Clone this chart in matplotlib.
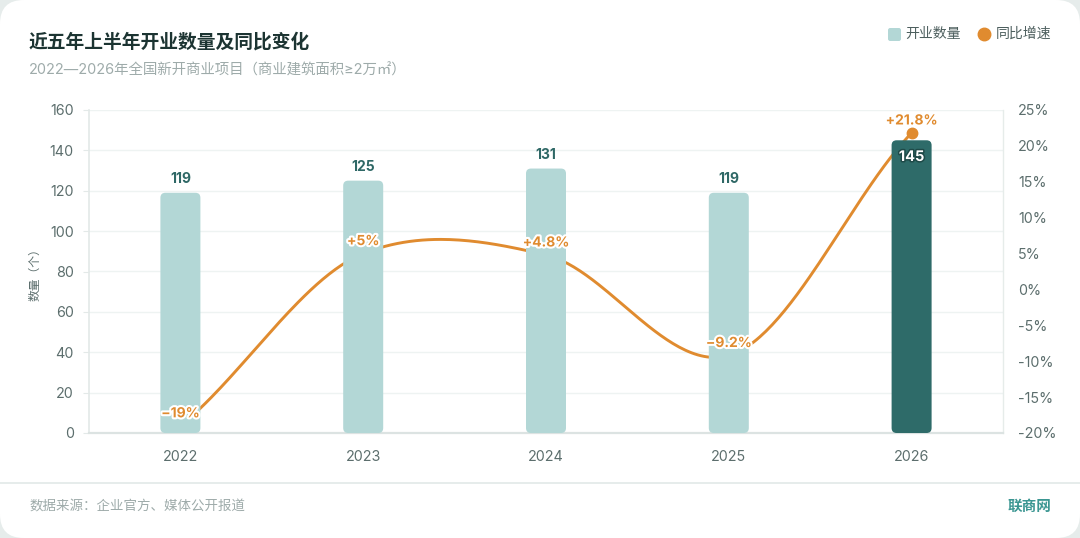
import numpy as np
import matplotlib
matplotlib.use("Agg")
import matplotlib.pyplot as plt
from matplotlib.patches import FancyBboxPatch
from matplotlib.lines import Line2D
import matplotlib.patheffects as pe

plt.rcParams['font.family'] = ['Inter', 'Noto Sans CJK SC', 'DejaVu Sans']

# ---- data ----
years = ['2022', '2023', '2024', '2025', '2026']
counts = [119, 125, 131, 119, 145]
growth = [-19, 5, 4.8, -9.2, 21.8]
left_ticks = [0, 20, 40, 60, 80, 100, 120, 140, 160]
right_ticks = [-20, -15, -10, -5, 0, 5, 10, 15, 20, 25]

title = '近五年上半年开业数量及同比变化'
subtitle = '2022—2026年全国新开商业项目（商业建筑面积≥2万㎡）'
legend_labels = ['开业数量', '同比增速']
ylabel = '数量（个）'
source = '数据来源：企业官方、媒体公开报道'
brand = '联商网'

# ---- colours ----
c_bar = '#b3d7d6'
c_bar_hi = '#2e6b69'
c_line = '#e08b2f'
c_txt_bar = '#2f6866'
c_tick = '#5c6e6d'
c_grid = '#eef3f2'

W, H = 1080, 538
fig = plt.figure(figsize=(W / 100, H / 100), dpi=100)
fig.patch.set_facecolor('#e6eceb')

def fx(x):
    return x / W

def fy(y):
    return 1 - y / H

# card
card = FancyBboxPatch((0, 0), 1, 1, boxstyle='round,pad=0,rounding_size=0.022',
                      mutation_aspect=W / H, transform=fig.transFigure,
                      facecolor='white', edgecolor='none', zorder=0)
fig.add_artist(card)

# axes
ax_l, ax_r, ax_t, ax_b = 89, 1003, 110, 433
pos = [fx(ax_l), fy(ax_b), fx(ax_r) - fx(ax_l), fy(ax_t) - fy(ax_b)]
ax2 = fig.add_axes(pos)
ax1 = fig.add_axes(pos, sharex=ax2)
ax1.set_zorder(ax2.get_zorder() + 1)
ax1.patch.set_visible(False)
ax2.patch.set_visible(False)

x = np.arange(len(years))
ax1.set_xlim(-0.5, len(years) - 0.5)
ax1.set_ylim(0, 160)
ax2.set_ylim(-20, 25)

# horizontal grid (left-axis ticks), drawn behind the line
for t in left_ticks[1:]:
    ax2.axhline(ax2.transData.inverted().transform(ax1.transData.transform((0, t)))[1],
                color=c_grid, lw=1.0, zorder=0)

# line: smooth cardinal spline through points
tension = 0.85
g = np.array(growth, dtype=float)
n = len(g)
m = np.zeros(n)
for i in range(n):
    if i == 0:
        m[i] = g[1] - g[0]
    elif i == n - 1:
        m[i] = g[-1] - g[-2]
    else:
        m[i] = (g[i + 1] - g[i - 1]) / 2
m *= tension
xs, ys = [], []
for i in range(n - 1):
    t = np.linspace(0, 1, 60)
    h00 = 2 * t**3 - 3 * t**2 + 1
    h10 = t**3 - 2 * t**2 + t
    h01 = -2 * t**3 + 3 * t**2
    h11 = t**3 - t**2
    xs.append(x[i] + t)
    ys.append(h00 * g[i] + h10 * m[i] + h01 * g[i + 1] + h11 * m[i + 1])
ax2.plot(np.concatenate(xs), np.concatenate(ys), color=c_line, lw=2.1,
         solid_capstyle='round', zorder=2)

# bars
bar_w = 40 / ((ax_r - ax_l) / len(years))
bars = ax1.bar(x, counts, width=bar_w, color=[c_bar] * 4 + [c_bar_hi], zorder=3)
px_x = (ax_r - ax_l) / len(years)   # px per x unit
px_y = (ax_b - ax_t) / 160          # px per y unit
aspect = px_x / px_y
r_px = 5
for i, b in enumerate(bars):
    b.set_visible(False)
    fb = FancyBboxPatch((b.get_x(), 0), b.get_width(), b.get_height(),
                        boxstyle=f'round,pad=0,rounding_size={r_px / px_x}',
                        mutation_aspect=aspect, facecolor=b.get_facecolor(),
                        edgecolor='none', zorder=3)
    ax1.add_patch(fb)

# bar labels
for i, v in enumerate(counts):
    if i == len(counts) - 1:
        ax1.annotate(str(v), (x[i], v), xytext=(0, -12), textcoords='offset points',
                     ha='center', va='center', fontsize=10.5, fontweight='bold',
                     color='white', zorder=6,
                     path_effects=[pe.withStroke(linewidth=2.2, foreground='#1e4a48')])
    else:
        ax1.annotate(str(v), (x[i], v), xytext=(0, 5), textcoords='offset points',
                     ha='center', va='bottom', fontsize=10, fontweight='bold',
                     color=c_txt_bar, zorder=6)

# last point dot (on top of bars)
ax1.plot([x[-1]], [growth[-1]], 'o', color=c_line, ms=7.5, transform=ax2.transData,
         zorder=5, clip_on=False)

# percent labels
for i, v in enumerate(growth):
    s = f'{v:+g}%'.replace('-', '\u2212')
    ax1.annotate(s, (x[i], v), xycoords=ax2.transData, xytext=(0, 9),
                 textcoords='offset points', ha='center', va='center',
                 fontsize=10, fontweight='bold', color=c_line, zorder=7,
                 path_effects=[pe.withStroke(linewidth=3, foreground='white')])

# axes styling
ax1.set_xticks(x)
ax1.set_xticklabels(years)
ax1.set_yticks(left_ticks)
ax2.set_yticks(right_ticks)
ax2.set_yticklabels([f'{t}%' for t in right_ticks])
for a in (ax1, ax2):
    for s in a.spines.values():
        s.set_visible(False)
ax1.spines['left'].set_visible(True)
ax1.spines['left'].set_color('#e3e9e8')
ax1.spines['left'].set_linewidth(1.2)
ax1.spines['bottom'].set_visible(True)
ax1.spines['bottom'].set_color('#dce3e2')
ax1.spines['bottom'].set_linewidth(1.6)
ax2.spines['right'].set_visible(True)
ax2.spines['right'].set_color('#e6ecea')
ax2.spines['right'].set_linewidth(1.0)

ax1.tick_params(axis='y', length=4, color='#e3e9e8', pad=7, labelsize=10.3, labelcolor=c_tick)
ax1.tick_params(axis='x', length=0, pad=12, labelsize=10.3, labelcolor=c_tick)
ax2.tick_params(axis='y', length=0, pad=11, labelsize=10.3, labelcolor=c_tick,
                labelleft=False, labelright=True, left=False, right=True)
ax2.tick_params(axis='x', bottom=False, labelbottom=False)

fig.text(fx(35), fy(272), ylabel, rotation=90, ha='center', va='center',
         fontsize=8.5, color='#5c6e6d')

# titles
fig.text(fx(29), fy(42), title, ha='left', va='center', fontsize=13.5,
         fontweight='bold', color='#1c3432')
fig.text(fx(29), fy(70), subtitle, ha='left', va='center', fontsize=10.4,
         color='#9eabaa')

# legend
sq = FancyBboxPatch((fx(888), fy(41)), fx(13), 13 / H,
                    boxstyle='round,pad=0,rounding_size=0.002', mutation_aspect=W / H,
                    transform=fig.transFigure, facecolor=c_bar, edgecolor='none')
fig.add_artist(sq)
fig.text(fx(905), fy(34), legend_labels[0], ha='left', va='center', fontsize=10,
         color='#4d5f5e')
fig.add_artist(Line2D([fx(984)], [fy(34)], marker='o', ms=9, color=c_line,
                      transform=fig.transFigure, lw=0))
fig.text(fx(996), fy(34), legend_labels[1], ha='left', va='center', fontsize=10,
         color='#4d5f5e')

# footer
fig.add_artist(Line2D([0, 1], [fy(483), fy(483)], color='#e2e9e8', lw=1.2,
                      transform=fig.transFigure))
fig.text(fx(29), fy(507), source, ha='left', va='center', fontsize=9.7,
         color='#9eabaa')
fig.text(fx(1051), fy(507), brand, ha='right', va='center', fontsize=10.5,
         fontweight='bold', color='#3b9692')

fig.savefig('out.png', dpi=100, facecolor=fig.get_facecolor())
